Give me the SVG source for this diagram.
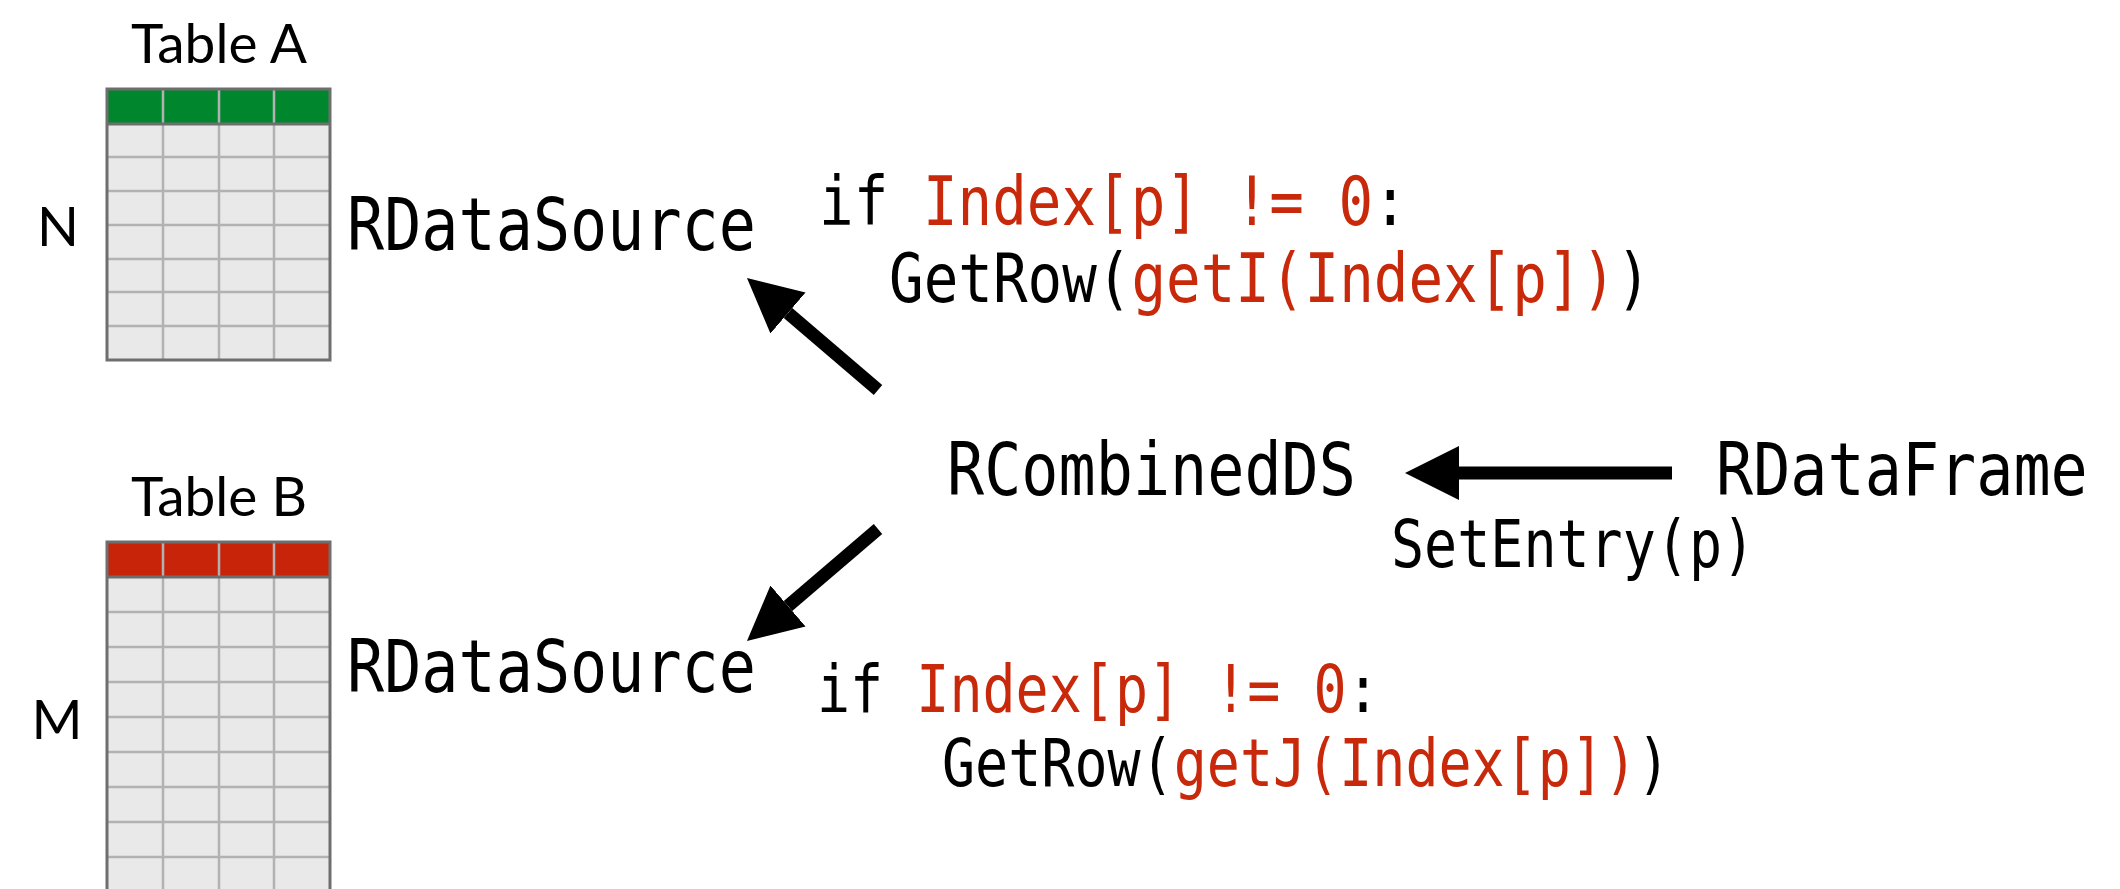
<svg xmlns="http://www.w3.org/2000/svg" width="2120" height="889" viewBox="0 0 2120 889">
  <style>
    .title { font-family: Lato, "Open Sans", "DejaVu Sans", sans-serif; font-size: 55px; fill: #000; }
    .mono { font-family: "DejaVu Sans Mono", "Liberation Mono", monospace; fill: #000; }
    .big { font-size: 73px; }
    .code { font-size: 68px; }
    .small { font-size: 65px; }
    .hl { fill: #c8290b; }
    .body { fill: #e9e9e9; }
    .grid { stroke: #b2b2b2; stroke-width: 2.5; fill: none; }
    .frame { stroke: #6e6e6e; stroke-width: 3; fill: none; }
    .edge { stroke: #000; stroke-width: 13; fill: none; marker-end: url(#head); }
  </style>
  <defs>
    <marker id="head" markerUnits="userSpaceOnUse" markerWidth="54" markerHeight="54" viewBox="0 -27 54 54" refX="0" refY="0" orient="auto">
      <path d="M0,-27 L54,0 L0,27 Z" fill="#000"/>
    </marker>
  </defs>
  <rect width="2120" height="889" fill="#fff"/>

  <!-- Table A: N rows, green header -->
  <g id="tableA">
    <text class="title" x="219" y="63" text-anchor="middle">Table A</text>
    <text class="title" x="58" y="246" text-anchor="middle">N</text>
    <rect class="body" x="107" y="124" width="223" height="236"/>
    <rect x="107" y="89" width="223" height="35" fill="#00872e"/>
    <path class="grid" d="M107,157H330M107,191H330M107,225H330M107,259H330M107,292H330M107,326H330M163,89V360M219,89V360M274,89V360"/>
    <path class="frame" d="M107,124H330"/>
    <rect class="frame" x="107" y="89" width="223" height="271"/>
  </g>

  <!-- Table B: M rows, red header, runs past the bottom edge -->
  <g id="tableB">
    <text class="title" x="219" y="516" text-anchor="middle">Table B</text>
    <text class="title" x="57" y="739" text-anchor="middle">M</text>
    <rect class="body" x="107" y="577" width="223" height="330"/>
    <rect x="107" y="542" width="223" height="35" fill="#c8240a"/>
    <path class="grid" d="M107,612H330M107,647H330M107,682H330M107,717H330M107,752H330M107,787H330M107,822H330M107,857H330M163,542V905M219,542V905M274,542V905"/>
    <path class="frame" d="M107,577H330"/>
    <path class="frame" d="M107,905V542H330V905"/>
  </g>

  <g id="dsA">
    <text class="mono big" transform="translate(347,250) scale(0.846,1)">RDataSource</text>
  </g>
  <g id="dsB">
    <text class="mono big" transform="translate(347,692) scale(0.846,1)">RDataSource</text>
  </g>
  <g id="combined">
    <text class="mono big" transform="translate(947,495) scale(0.846,1)">RCombinedDS</text>
  </g>
  <g id="dataframe">
    <text class="mono big" transform="translate(1716,495) scale(0.846,1)">RDataFrame</text>
  </g>

  <!-- Labels on the connectors -->
  <g id="codeA">
    <text class="mono code" transform="translate(819,225) scale(0.846,1)">if <tspan class="hl">Index[p] != 0</tspan>:</text>
    <text class="mono code" transform="translate(889,302) scale(0.846,1)">GetRow(<tspan class="hl">getI(Index[p])</tspan>)</text>
  </g>
  <g id="codeB">
    <text class="mono small" transform="translate(817,712) scale(0.846,1)">if <tspan class="hl">Index[p] != 0</tspan>:</text>
    <text class="mono small" transform="translate(942,786) scale(0.846,1)">GetRow(<tspan class="hl">getJ(Index[p])</tspan>)</text>
  </g>
  <g id="setEntry">
    <text class="mono small" transform="translate(1391,567) scale(0.846,1)">SetEntry(p)</text>
  </g>

  <g id="connectors">
    <path class="edge" d="M878,390L788,313"/>
    <path class="edge" d="M878,529L788,606"/>
    <path class="edge" d="M1672,473H1459"/>
  </g>
</svg>
